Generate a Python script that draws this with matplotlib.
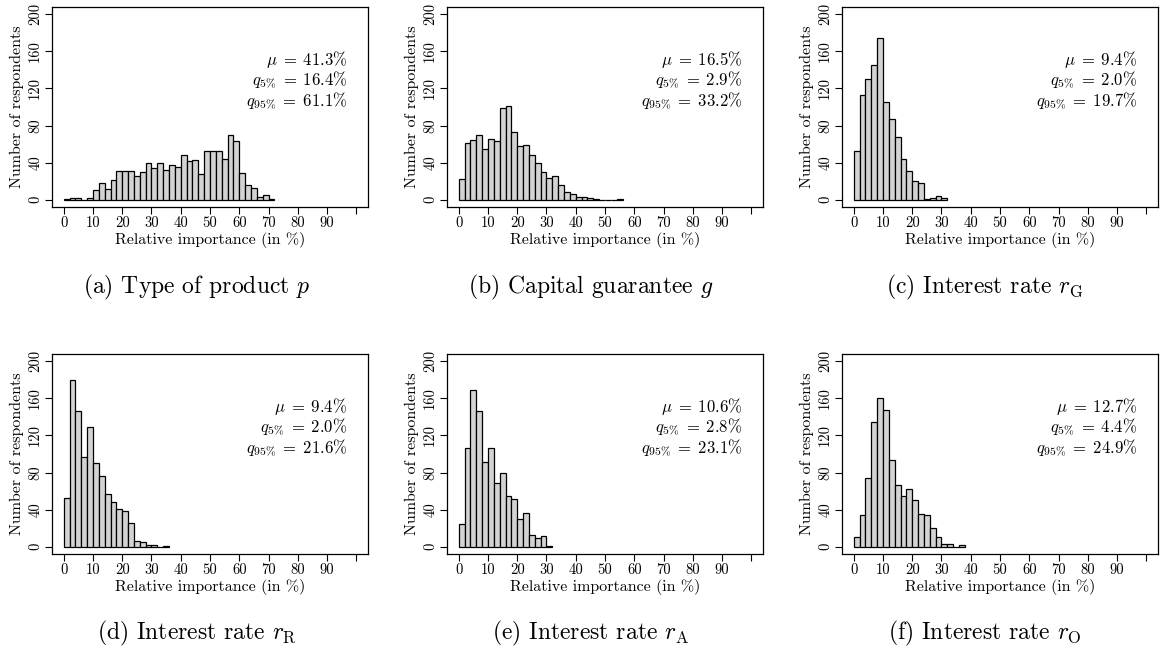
import matplotlib
matplotlib.use("Agg")
import matplotlib.pyplot as plt
import numpy as np

plt.rcParams["font.family"] = ["cmr10", "DejaVu Serif"]
plt.rcParams["mathtext.fontset"] = "cm"
plt.rcParams["axes.formatter.use_mathtext"] = True

bin_width = 2

# counts per 2%-bin starting at 0
counts_p = [1, 2, 2, 0, 2, 10, 18, 11, 21, 31, 31, 31, 25, 30, 40, 34, 39, 32,
            37, 35, 48, 42, 43, 28, 53, 53, 53, 44, 70, 63, 29, 16, 13, 3, 5, 1]
counts_g = [22, 61, 64, 70, 55, 65, 63, 99, 101, 73, 58, 59, 48, 40, 30, 23, 25,
            16, 8, 6, 3, 3, 2, 1, 0, 0, 0, 1]
counts_rG = [52, 113, 130, 145, 174, 105, 87, 68, 44, 31, 20, 18, 1, 2, 4, 2]
counts_rR = [53, 180, 146, 97, 129, 90, 76, 57, 48, 41, 38, 25, 6, 5, 2, 2, 0, 1]
counts_rA = [24, 106, 169, 146, 91, 107, 69, 79, 55, 51, 30, 36, 12, 9, 11, 1]
counts_rO = [10, 34, 74, 135, 160, 148, 94, 67, 55, 62, 50, 35, 34, 20, 10, 3, 3, 0, 2]

means = ["41.3", "16.5", "9.4", "9.4", "10.6", "12.7"]
q05 = ["16.4", "2.9", "2.0", "2.0", "2.8", "4.4"]
q95 = ["61.1", "33.2", "19.7", "21.6", "23.1", "24.9"]

captions = [
    r"(a) Type of product $p$",
    r"(b) Capital guarantee $g$",
    r"(c) Interest rate $r_{\mathrm{G}}$",
    r"(d) Interest rate $r_{\mathrm{R}}$",
    r"(e) Interest rate $r_{\mathrm{A}}$",
    r"(f) Interest rate $r_{\mathrm{O}}$",
]

all_counts = [counts_p, counts_g, counts_rG, counts_rR, counts_rA, counts_rO]

W, H = 1160, 648
fig = plt.figure(figsize=(W / 100, H / 100), dpi=100)

lefts = [52, 447, 842]
tops = [7, 354]
caption_x = [197, 591, 985]
caption_y = [287, 633]
box_w, box_h = 316, 200

for i, counts in enumerate(all_counts):
    row, col = divmod(i, 3)
    ax = fig.add_axes([lefts[col] / W, 1 - (tops[row] + box_h) / H, box_w / W, box_h / H])
    edges = np.arange(len(counts)) * bin_width
    ax.bar(edges, counts, width=bin_width, align="edge", color="#d3d3d3",
           edgecolor="black", linewidth=0.9)

    ax.set_xlim(-4, 104)
    ax.set_ylim(-8, 208)
    ax.set_xticks(np.arange(0, 101, 10))
    ax.set_xticklabels([str(v) for v in range(0, 100, 10)] + [""])
    ax.set_yticks(np.arange(0, 201, 40))
    ax.set_yticklabels([str(v) for v in range(0, 201, 40)], rotation=90, va="center")
    ax.tick_params(direction="out", length=5, width=0.8, labelsize=10.5, pad=2)
    for s in ax.spines.values():
        s.set_linewidth(0.9)

    ax.set_xlabel("Relative importance (in %)", fontsize=11.5, labelpad=1)
    ax.set_ylabel("Number of respondents", fontsize=11.5, labelpad=3)

    ax.text(97, 151, r"$\mu\;=\;%s\%%$" % means[i], ha="right", va="center", fontsize=12)
    ax.text(97, 129, r"$q_{5\%%}\;=\;%s\%%$" % q05[i], ha="right", va="center", fontsize=12)
    ax.text(97, 106, r"$q_{95\%%}\;=\;%s\%%$" % q95[i], ha="right", va="center", fontsize=12)

    fig.text(caption_x[col] / W, 1 - caption_y[row] / H, captions[i],
             ha="center", va="center", fontsize=17)

fig.savefig("out.png", dpi=100)
